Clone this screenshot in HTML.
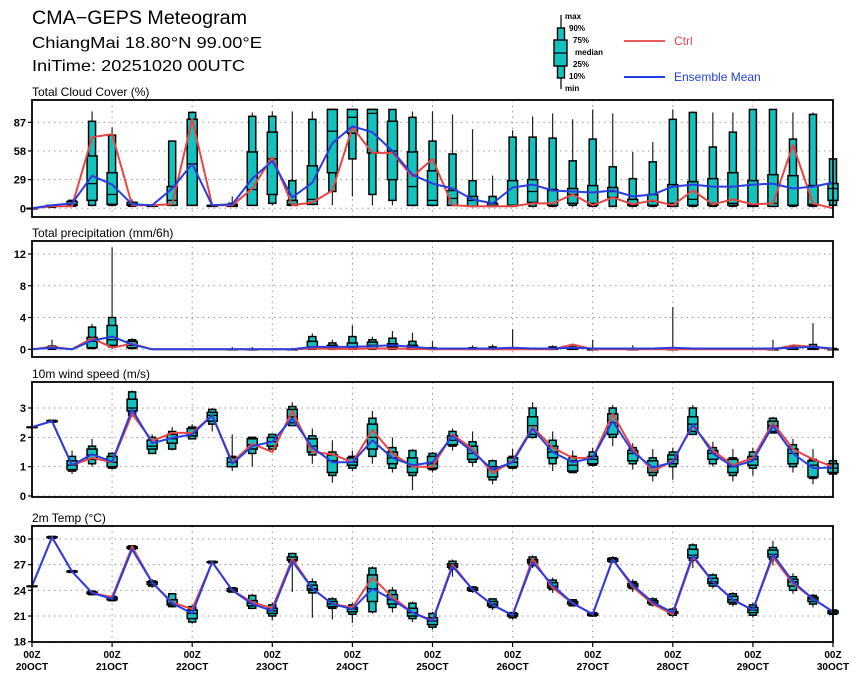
<!DOCTYPE html>
<html><head><meta charset="utf-8"><style>
html,body{margin:0;padding:0;background:#fff;}
svg{display:block;font-family:"Liberation Sans",sans-serif;}
</style></head><body>
<svg id="chart" width="860" height="680" viewBox="0 0 860 680" xmlns="http://www.w3.org/2000/svg">
<g>
<text x="32" y="24" font-size="19" textLength="215" lengthAdjust="spacingAndGlyphs">CMA−GEPS Meteogram</text>
<text x="32" y="48" font-size="16" textLength="230" lengthAdjust="spacingAndGlyphs">ChiangMai  18.80°N  99.00°E</text>
<text x="32" y="71" font-size="16" textLength="213" lengthAdjust="spacingAndGlyphs">IniTime:  20251020  00UTC</text>
</g>
<g font-size="8" font-weight="bold">
<line x1="561" y1="15" x2="561" y2="89" stroke="#000" stroke-width="1.2"/>
<rect x="557.5" y="28" width="7" height="50" fill="#14c2bd" stroke="#000" stroke-width="1.4"/>
<rect x="554" y="40" width="13" height="26" fill="#14c2bd" stroke="#000" stroke-width="1.4"/>
<line x1="554" y1="53" x2="567" y2="53" stroke="#000" stroke-width="1.2"/>
<text x="565" y="19">max</text><text x="569" y="31">90%</text><text x="573" y="43">75%</text>
<text x="575" y="55">median</text><text x="573" y="67">25%</text><text x="569" y="79">10%</text><text x="565" y="91">min</text>
<line x1="624" y1="41" x2="665" y2="41" stroke="#e84545" stroke-width="1.8"/>
<text x="674" y="45" font-size="12" font-weight="normal" fill="#e84545">Ctrl</text>
<line x1="624" y1="77" x2="665" y2="77" stroke="#2040e0" stroke-width="2"/>
<text x="674" y="81" font-size="12" font-weight="normal" fill="#2040e0">Ensemble Mean</text>
</g>
<g id="plots"></g>
</svg>
<script>
// time axis
const dayLabels = ["20OCT","21OCT","22OCT","23OCT","24OCT","25OCT","26OCT","27OCT","28OCT","29OCT","30OCT"];
// cloud cover (%)  box: [min,p10,p25,median,p75,p90,max]
const cloudTicks = [0,29,58,87];
const cloudCtrl = [0,2,2,72,75,3,3,4,90,3,3,20,52,3,6,18,82,56,56,32,50,3,2,2,2,5,5,14,3,11,4,8,3,18,4,9,4,5,64,5,0];
const cloudMean = [0,3,5,33,24,4,3,20,45,3,4,30,48,11,26,66,83,77,58,34,25,20,9,5,21,24,18,17,16,18,12,14,22,24,22,22,24,25,20,22,26];
const cloudBox = [[0,0,0,0,0,0,0],[1,1,2,2,3,3,4],[2,2,3,4,7,8,9],[2,3,8,25,53,88,98],[2,3,4,14,36,74,82],[2,2,3,4,6,6,9],[2,2,2,3,3,3,4],[3,3,3,8,22,68,68],[3,3,3,45,90,97,98],[2,2,2,3,3,3,3],[2,2,2,3,4,5,12],[3,3,3,19,57,93,97],[3,5,14,50,77,93,98],[3,3,3,4,8,28,98],[3,4,4,9,43,90,98],[3,17,36,78,100,100,100],[12,50,76,92,100,100,100],[3,14,56,96,100,100,100],[3,8,29,58,88,100,100],[2,3,3,22,57,92,98],[2,3,3,8,38,68,98],[2,3,3,10,18,55,95],[1,2,2,8,12,28,80],[1,2,2,3,5,12,33],[1,2,3,3,28,72,79],[1,2,6,17,29,72,93],[1,2,3,18,19,71,96],[1,3,5,14,20,48,90],[1,2,3,5,23,70,100],[1,2,11,17,21,42,96],[1,2,3,4,9,30,57],[1,2,3,7,14,47,67],[1,2,2,5,24,90,100],[1,2,3,9,27,97,98],[1,2,3,5,30,62,97],[1,2,3,5,36,77,97],[1,2,2,3,28,100,100],[1,2,2,5,34,100,100],[1,2,3,3,33,70,97],[1,2,3,4,23,95,97],[1,3,8,20,25,50,100]];
// precipitation (mm/6h)
const precTicks = [0,4,8,12];
const precCtrl = [0,0.3,0,1.4,0.2,0.7,0,0,0,0,0,0,0,0,0.1,0.05,0.05,0.1,0.1,0.05,0,0,0,0,0,0,0,0.6,0,0,0,0,0,0,0,0,0,0,0.5,0.3,0];
const precMean = [0,0.2,0,1.1,1.6,0.6,0,0,0,0,0,0,0,0,0.3,0.3,0.3,0.4,0.5,0.3,0.1,0.1,0.1,0.1,0.2,0.1,0.1,0.2,0.1,0.1,0.1,0.1,0.2,0.1,0.1,0.1,0.1,0.1,0.2,0.3,0.1];
const precBox = [[0,0,0,0,0,0,0],[0,0,0.1,0.2,0.3,0.4,1.2],[0,0,0,0,0,0,0],[0,0.1,0.2,1,1.5,2.8,3.2],[0,0.3,0.5,1.2,3.0,4.0,12.8],[0,0.1,0.2,0.5,1.0,1.2,1.4],[0,0,0,0,0,0,0],[0,0,0,0,0,0,0],[0,0,0,0,0,0,0],[0,0,0,0,0,0,0],[0,0,0,0,0,0,0.3],[0,0,0,0,0,0,0.3],[0,0,0,0,0,0,0],[0,0,0,0,0,0,0.2],[0,0,0.1,0.3,1,1.6,2.0],[0,0,0.1,0.2,0.5,0.8,1.2],[0,0,0.1,0.2,0.8,1.6,3.0],[0,0,0.1,0.5,0.9,1.2,1.6],[0,0,0.1,0.3,0.7,1.4,2.3],[0,0,0,0.2,0.5,1.0,2.1],[0,0,0,0,0.1,0.2,1.0],[0,0,0,0,0,0,0],[0,0,0,0,0.1,0.2,0.5],[0,0,0,0,0.1,0.3,0.6],[0,0,0,0,0.1,0.2,2.5],[0,0,0,0,0,0,0],[0,0,0,0,0.1,0.3,0.5],[0,0,0,0,0.1,0.3,0.7],[0,0,0,0,0,0.1,1.2],[0,0,0,0,0,0,0],[0,0,0,0,0,0.1,0.5],[0,0,0,0,0,0,0],[0,0,0,0,0,0.1,5.3],[0,0,0,0,0,0,0],[0,0,0,0,0,0,0],[0,0,0,0,0,0,0],[0,0,0,0,0,0,0],[0,0,0,0,0,0.1,1.2],[0,0,0,0,0.1,0.3,0.6],[0,0,0,0.1,0.3,0.6,3.3],[0,0,0,0,0,0.1,0.3]];
// wind speed (m/s)
const windTicks = [0,1,2,3];
const windCtrl = [2.35,2.55,1.05,1.3,1.15,2.8,1.88,2.15,2.15,2.75,1.15,1.78,1.5,2.9,1.5,1.42,1.15,2.25,1.45,1.0,1.0,2.1,1.6,0.78,1.2,2.35,1.65,1.3,1.3,2.8,1.6,0.85,1.2,2.4,1.55,1.05,1.3,2.5,1.6,1.25,1.0];
const windMean = [2.35,2.55,1.05,1.42,1.17,2.95,1.8,1.98,2.1,2.75,1.1,1.7,1.85,2.65,1.65,1.15,1.15,1.9,1.3,1.05,1.15,2.05,1.5,0.9,1.15,2.3,1.5,1.15,1.3,2.55,1.5,0.97,1.15,2.45,1.45,1.0,1.2,2.4,1.45,0.95,0.97];
const windBox = [[2.35,2.35,2.35,2.35,2.35,2.35,2.35],[2.5,2.52,2.53,2.55,2.57,2.58,2.6],[0.75,0.85,0.9,1.05,1.2,1.35,1.55],[1.0,1.1,1.25,1.4,1.6,1.7,1.95],[0.9,0.95,1.0,1.15,1.35,1.45,1.5],[2.7,2.75,2.9,3.0,3.3,3.55,3.6],[1.45,1.45,1.6,1.7,1.9,2.0,2.1],[1.55,1.6,1.8,1.95,2.1,2.2,2.35],[1.95,1.95,2.05,2.15,2.3,2.35,2.45],[2.2,2.45,2.55,2.75,2.85,2.95,3.0],[0.85,1.0,1.0,1.15,1.3,1.35,2.1],[1.0,1.45,1.6,1.75,1.95,2.0,2.0],[1.6,1.6,1.7,1.85,2.0,2.1,2.1],[2.4,2.4,2.5,2.7,2.95,3.05,3.2],[1.1,1.4,1.5,1.7,1.95,2.05,2.3],[0.45,0.7,0.8,1.2,1.4,1.5,1.9],[0.85,0.95,1.05,1.15,1.3,1.35,1.55],[1.1,1.35,1.6,2.0,2.45,2.65,2.9],[0.8,0.95,1.1,1.3,1.5,1.65,2.0],[0.2,0.7,0.8,1.0,1.3,1.55,1.6],[0.8,0.9,0.95,1.1,1.35,1.45,1.5],[1.55,1.7,1.75,1.9,2.05,2.2,2.3],[1.0,1.15,1.25,1.45,1.7,1.85,2.2],[0.4,0.55,0.65,0.9,1.0,1.2,1.25],[0.9,0.95,1.0,1.15,1.3,1.35,1.6],[1.95,2.0,2.1,2.4,2.7,3.0,3.2],[0.85,1.1,1.3,1.5,1.7,1.9,2.2],[0.8,0.8,0.85,1.05,1.2,1.35,1.55],[1.0,1.05,1.1,1.25,1.35,1.5,1.65],[1.7,2.0,2.1,2.5,2.8,3.0,3.1],[0.9,1.1,1.2,1.45,1.55,1.65,1.8],[0.5,0.7,0.8,1.0,1.2,1.3,1.6],[0.55,1.0,1.1,1.25,1.4,1.5,1.65],[2.1,2.1,2.2,2.45,2.7,3.0,3.1],[1.0,1.1,1.25,1.45,1.55,1.65,1.85],[0.5,0.7,0.8,1.0,1.25,1.3,1.6],[0.7,0.95,1.05,1.25,1.35,1.5,1.65],[2.15,2.15,2.2,2.4,2.55,2.65,2.7],[0.8,1.0,1.1,1.45,1.6,1.75,1.95],[0.4,0.6,0.65,1.05,1.2,1.25,1.6],[0.65,0.75,0.8,0.95,1.1,1.2,1.3]];
// 2m temperature (°C)
const tempTicks = [18,21,24,27,30];
const tempCtrl = [24.5,30.2,26.2,23.7,23.2,29.1,24.9,22.6,21.8,27.3,24.0,22.6,21.9,27.7,24.2,22.4,22.0,25.5,23.2,21.4,20.5,27.0,24.1,22.3,21.1,27.7,24.3,22.5,21.2,27.6,24.4,22.4,21.2,27.9,25.0,22.9,21.7,27.9,24.8,23.0,21.5];
const tempMean = [24.5,30.2,26.2,23.7,23.0,28.8,24.9,22.5,21.3,27.3,24.0,22.4,21.6,27.4,24.2,22.4,21.8,24.2,22.9,21.4,20.4,26.8,24.1,22.3,21.1,27.3,24.6,22.5,21.2,27.6,24.6,22.6,21.4,28.1,25.0,22.9,21.7,28.2,25.0,23.0,21.5];
const tempBox = [[24.5,24.5,24.5,24.5,24.5,24.5,24.5],[30.1,30.1,30.15,30.2,30.25,30.3,30.3],[26.1,26.1,26.15,26.2,26.25,26.3,26.3],[23.5,23.5,23.6,23.7,23.8,23.9,24.0],[22.7,22.8,22.9,23.0,23.2,23.3,23.4],[28.7,28.8,28.9,29.0,29.1,29.2,29.3],[24.3,24.5,24.7,24.9,25.0,25.1,25.3],[22.0,22.1,22.3,22.5,22.9,23.6,23.6],[20.1,20.3,20.7,21.3,21.7,22.1,22.3],[27.2,27.2,27.25,27.3,27.35,27.4,27.4],[23.8,23.8,23.9,24.0,24.2,24.3,24.4],[21.8,21.9,22.2,22.5,22.8,23.4,23.6],[20.5,21.0,21.3,21.6,21.9,22.3,22.6],[23.8,27.3,27.5,27.6,27.9,28.3,28.4],[20.8,23.7,24.0,24.2,24.6,25.0,25.4],[20.6,21.9,22.1,22.4,22.7,23.0,23.2],[20.2,21.2,21.5,21.8,22.0,22.3,22.6],[21.3,21.5,22.7,24.2,25.8,26.6,26.8],[21.4,22.0,22.4,22.9,23.5,24.0,24.4],[20.3,20.7,21.0,21.4,21.9,22.5,22.7],[19.4,19.7,20.0,20.4,20.8,21.3,21.5],[25.6,26.5,26.7,26.9,27.1,27.4,27.6],[23.7,23.9,24.0,24.1,24.3,24.4,24.5],[21.7,22.0,22.2,22.4,22.7,23.0,23.1],[20.6,20.8,21.0,21.1,21.3,21.4,21.5],[26.6,26.9,27.2,27.4,27.6,27.9,28.1],[23.7,24.1,24.3,24.5,24.9,25.2,25.5],[22.1,22.2,22.4,22.5,22.7,22.9,23.0],[20.9,21.0,21.1,21.2,21.3,21.4,21.5],[27.2,27.3,27.4,27.6,27.7,27.8,28.0],[23.8,24.2,24.4,24.6,24.8,25.0,25.3],[22.1,22.3,22.5,22.6,22.8,23.0,23.2],[20.8,21.1,21.3,21.4,21.5,21.8,22.0],[26.6,27.5,27.8,28.1,28.8,29.3,29.5],[24.2,24.5,24.8,25.0,25.4,25.8,26.0],[22.1,22.4,22.6,22.9,23.3,23.6,23.8],[20.8,21.1,21.4,21.7,22.0,22.3,22.6],[26.9,27.6,27.9,28.2,28.7,29.0,29.8],[23.6,24.0,24.5,25.0,25.3,25.6,26.0],[22.0,22.4,22.7,23.0,23.2,23.4,23.6],[21.0,21.2,21.3,21.5,21.6,21.7,21.8]];

const NS = "http://www.w3.org/2000/svg";
const plots = document.getElementById('plots');
const X0 = 32, X1 = 833, NSTEP = 40;
function xPos(i){ return X0 + (X1 - X0) * i / NSTEP; }
function mk(tag, attrs, parent){
  const e = document.createElementNS(NS, tag);
  for (const k in attrs) e.setAttribute(k, attrs[k]);
  parent.appendChild(e);
  return e;
}
const panels = [
  {key:'cloud', title:'Total Cloud Cover (%)', top:100, bot:217, y0:208.3, v0:0, v1:87, y1:122.3, ticks:cloudTicks, ctrl:cloudCtrl, mean:cloudMean, box:cloudBox, axis:false},
  {key:'precip', title:'Total precipitation (mm/6h)', top:241, bot:357, y0:349.3, v0:0, v1:12, y1:254, ticks:precTicks, ctrl:precCtrl, mean:precMean, box:precBox, axis:false},
  {key:'wind', title:'10m wind speed (m/s)', top:382, bot:497, y0:496, v0:0, v1:3, y1:408, ticks:windTicks, ctrl:windCtrl, mean:windMean, box:windBox, axis:false},
  {key:'temp', title:'2m Temp (°C)', top:526, bot:642, y0:641.7, v0:18, v1:30, y1:539, ticks:tempTicks, ctrl:tempCtrl, mean:tempMean, box:tempBox, axis:true}
];
panels.forEach(p => {
  const yPos = v => p.y0 + (v - p.v0) * (p.y1 - p.y0) / (p.v1 - p.v0);
  const g = mk('g', {}, plots);
  
  
  const t = mk('text', {x:32, y:p.top-4, 'font-size':12}, g);
  
  
  t.textContent = p.title;
  for (let d = 1; d < dayLabels.length - 1; d++){
    const gl = mk('line', {x1:xPos(d*4), x2:xPos(d*4), y1:p.top, y2:p.bot, stroke:'#999', 'stroke-width':1, 'stroke-dasharray':'1.5,4'}, g);
    
    
  }
  p.ticks.forEach(v => {
    const y = yPos(v);
    const hl = mk('line', {x1:X0, x2:X1, y1:y, y2:y, stroke:'#999', 'stroke-width':1, 'stroke-dasharray':'1.5,4'}, g);
    
    
    mk('line', {x1:X0-4, x2:X0, y1:y, y2:y, stroke:'#000', 'stroke-width':1.2}, g);
    const tl = mk('text', {x:26, y:y+4, 'font-size':11, 'font-weight':'bold', 'text-anchor':'end'}, g);
    
    
    tl.textContent = v;
  });
  p.box.forEach((b, i) => {
    if (b[6] - b[0] <= 0 && p.key === 'precip') return;
    const x = xPos(i);
    const bg = mk('g', {}, g);
    
    
    mk('line', {x1:x, x2:x, y1:yPos(b[0]), y2:yPos(b[6]), stroke:'#222', 'stroke-width':1.2}, bg);
    mk('rect', {x:x-3.5, y:yPos(b[5]), width:7, height:Math.max(0.5, yPos(b[1])-yPos(b[5])), fill:'#14c2bd', stroke:'#000', 'stroke-width':1.5}, bg);
    mk('rect', {x:x-5, y:yPos(b[4]), width:10, height:Math.max(0.5, yPos(b[2])-yPos(b[4])), fill:'#14c2bd', stroke:'#000', 'stroke-width':1.5}, bg);
    mk('line', {x1:x-5, x2:x+5, y1:yPos(b[3]), y2:yPos(b[3]), stroke:'#000', 'stroke-width':1.3}, bg);
  });
  const lineOf = arr => arr.map((v, i) => (i ? 'L' : 'M') + xPos(i).toFixed(1) + ',' + yPos(v).toFixed(1)).join('');
  const c = mk('path', {d:lineOf(p.ctrl), fill:'none', stroke:'#e84545', 'stroke-width':2, 'stroke-linejoin':'round'}, g);
  
  
  const m = mk('path', {d:lineOf(p.mean), fill:'none', stroke:'#2a3ee0', 'stroke-width':2, 'stroke-linejoin':'round'}, g);
  
  
  const f = mk('rect', {x:X0, y:p.top, width:X1-X0, height:p.bot-p.top, fill:'none', stroke:'#000', 'stroke-width':1.8}, g);
  
  
  if (p.axis){
    dayLabels.forEach((lab, d) => {
      const x = xPos(d*4);
      mk('line', {x1:x, x2:x, y1:p.bot, y2:p.bot+5, stroke:'#000', 'stroke-width':1.2}, g);
      const a = mk('text', {x:x, y:p.bot+16, 'font-size':10, 'font-weight':'bold', 'text-anchor':'middle'}, g);
      
      
      a.textContent = '00Z';
      const b = mk('text', {x:x, y:p.bot+28, 'font-size':10, 'font-weight':'bold', 'text-anchor':'middle'}, g);
      
      
      b.textContent = lab;
    });
  }
});
</script>
</body></html>
